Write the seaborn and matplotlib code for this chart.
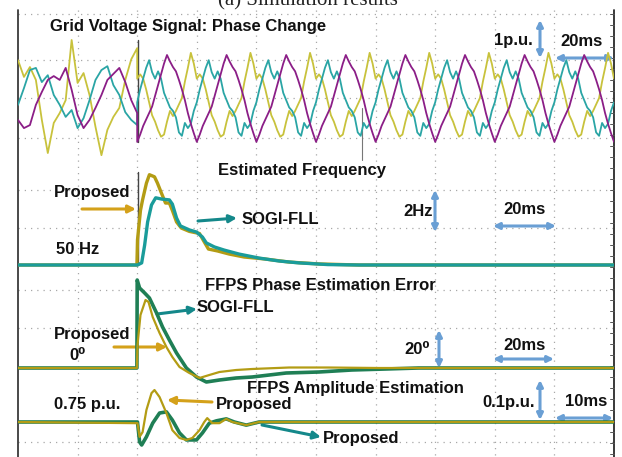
import numpy as np
import matplotlib
matplotlib.use("Agg")
import matplotlib.pyplot as plt
import seaborn as sns

# ---------------- data ----------------
# Grid voltage (p.u.), pre-change samples every 2 ms from t = 0 .. 40 ms
v_pre_t = np.arange(0, 41, 2)
v_pre_yellow = [0.88, 0.49, 0.72, 0.42, -0.51, -1.28, -0.58, -0.35, -0.05, 1.35, 0.35,
                0.58, 0.07, -0.67, -1.33, -0.74, -0.44, -0.23, 0.42, 0.9, 1.16]
v_pre_magenta = [-0.51, -0.7, -0.63, -0.16, 0.14, 0.42, 0.51, 0.42, 0.7, 0.19, -0.4,
                 -0.7, -0.51, -0.23, 0.07, 0.42, 0.56, 0.7, 0.37, -0.05, -0.35]
v_pre_teal = [-0.16, 0.23, 0.65, 0.7, 0.37, 0.53, 0.07, -0.16, -0.44, -0.28, -0.7,
              -0.47, -0.05, 0.42, 0.65, 0.74, 0.3, 0.07, -0.33, -0.51, -0.63]
# One 20 ms cycle after the phase change, samples every 1 ms (repeats for 8 cycles)
v_cycle_yellow = [0.45, 0.55, 0.45, 0.2, -0.1, -0.4, -0.55, -0.75, -0.9, -0.85,
                  -0.55, -0.3, -0.42, -0.3, -0.15, 0.0, 0.38, 0.7, 1.05, 0.8]
v_cycle_teal = [-0.1, 0.2, 0.45, 0.7, 0.88, 0.6, 0.45, 0.62, 0.45, 0.12,
                -0.05, -0.22, -0.3, -0.45, -0.8, -0.88, -0.58, -0.7, -0.6, -0.3]
v_cycle_magenta = [-1.02, -0.85, -0.65, -0.5, -0.35, -0.2, 0.05, 0.3, 0.55, 0.8,
                   1.0, 0.85, 0.72, 0.62, 0.42, 0.2, -0.05, -0.35, -0.6, -0.82]
n_cycles = 8

# Estimated frequency (Hz)
f_prop_t = [0, 39.9, 40.1, 41.1, 41.8, 43.1, 44.1, 45.8, 46.8, 48.2, 49.5, 50.8, 51.8, 53.2,
            54.8, 57.5, 60.9, 62.5, 63.9, 66.9, 70.9, 75.9, 82.6, 91, 101, 114.4, 200]
f_prop = [50, 50, 51.2, 52.6, 53.1, 53.9, 54.3, 54.2, 53.9, 53.4, 52.95, 52.95, 52.6, 52.05,
          51.76, 51.6, 51.5, 51.1, 50.76, 50.67, 50.52, 50.38, 50.29, 50.14, 50.05, 50.0, 50.0]
f_sogi_t = [0, 40.1, 41.5, 42.5, 43.5, 44.8, 46.2, 48.2, 50.8, 51.8, 53.2, 54.5, 57.5, 59.9,
            61.9, 63.2, 65.9, 69.2, 74.2, 80.9, 87.6, 94.3, 104, 114.4, 200]
f_sogi = [50, 50, 50.1, 50.95, 52.05, 52.86, 53.2, 53.14, 53.1, 52.9, 52.24, 51.86, 51.67, 51.57,
          51.33, 51.05, 50.86, 50.71, 50.52, 50.33, 50.19, 50.1, 50.02, 50.0, 50.0]

# FFPS phase estimation error (deg)
ph_sogi_t = [0, 39.9, 40.0, 40.8, 42.5, 44.1, 46.5, 48.5, 50.8, 53.2, 56.5, 59.9, 63.2, 67.6,
             73.2, 78.6, 84.3, 90, 101, 112, 123.4, 134.4, 200]
ph_sogi = [0, 0, 44, 40, 37.5, 35, 27.5, 20.5, 14, 7.5, 0, -4.5, -7, -6,
           -5, -4.5, -3.5, -2.5, -2, -1, -0.5, 0, 0]
ph_prop_t = [0, 39.9, 40.1, 41.1, 42.8, 43.8, 45.2, 47.5, 49.8, 51.8, 54.2, 57.5, 60.9, 64.2,
             67.6, 73.2, 78.6, 91, 104, 121, 200]
ph_prop = [0, 0, 11.5, 26.5, 34, 33, 25.5, 17.5, 10.5, 5.5, 0.5, -2.5, -5, -3.5,
           -2, -1, -0.5, 0.25, 0.25, 0, 0]

# FFPS amplitude estimation (p.u.)
a_prop_t = [0, 40.1, 40.8, 41.8, 43.1, 44.8, 45.8, 47.5, 49.8, 51.8, 54.2, 56.5, 58.5, 60.9,
            62.5, 63.5, 65.2, 67.6, 69.9, 71.9, 76.6, 80.9, 200]
a_prop = [0.75, 0.747, 0.712, 0.724, 0.781, 0.824, 0.832, 0.814, 0.773, 0.729, 0.709, 0.704, 0.709,
          0.729, 0.75, 0.76, 0.747, 0.747, 0.758, 0.75, 0.742, 0.75, 0.75]
a_sogi_t = [0, 40.1, 40.8, 41.5, 43.1, 45.2, 47.5, 49.8, 51.8, 54.2, 56.5, 59.9, 61.9, 64.2,
            66.6, 69.9, 72.6, 76.6, 80.9, 200]
a_sogi = [0.75, 0.75, 0.699, 0.691, 0.712, 0.747, 0.773, 0.776, 0.755, 0.722, 0.704, 0.704, 0.722,
          0.747, 0.753, 0.758, 0.75, 0.742, 0.75, 0.75]

# ---------------- style ----------------
sns.set_theme(style="white")
plt.rcParams['font.family'] = ['Liberation Sans', 'DejaVu Sans']

C_YEL = '#c8c23c'
C_TEAL = '#2aa5a5'
C_MAG = '#8b1e87'
C_PROP = '#b39c14'
C_SOGI = '#1a9c9a'
C_GREEN = '#1f7f55'
C_BLUE = '#6a9fd4'
C_GOLDA = '#d4a11a'
C_TEALA = '#14888a'

W, H = 622, 457
X0, X1 = 18, 614

fig = plt.figure(figsize=(W / 100, H / 100), dpi=100)
base = fig.add_axes([0, 0, 1, 1])
base.set_xlim(0, W)
base.set_ylim(H, 0)
base.axis('off')

# scope grid
for k in range(1, 10):
    x = X0 + k * (X1 - X0) / 10
    base.plot([x, x], [10, H], ls=(0, (1, 4)), color='#a8a8a8', lw=0.9, zorder=0)
for y in [14, 60, 98, 138, 190, 228, 290, 328, 442]:
    base.plot([X0, X1], [y, y], ls=(0, (1, 4)), color='#a8a8a8', lw=0.9, zorder=0)
base.plot([X0, X0], [10, H], color='#3a3a3a', lw=1.3)
base.plot([X1, X1], [10, H], color='#2a2a2a', lw=1.3)
for y in np.arange(14, H, 11):
    base.plot([X1 - 4, X1], [y, y], color='#555555', lw=0.7)

# markers
base.plot([138, 138], [40, 142], color='#444444', lw=1.0)
base.plot([138, 138], [172, 265], color='#444444', lw=1.0)
base.plot([362, 362], [108, 160], color='#777777', lw=0.8)


def panel(top, bot, ref_px, ref_val, px_per_unit):
    ax = fig.add_axes([X0 / W, 1 - bot / H, (X1 - X0) / W, (bot - top) / H])
    ax.set_xlim(0, 200)
    ax.set_ylim(ref_val - (bot - ref_px) / px_per_unit, ref_val + (ref_px - top) / px_per_unit)
    ax.patch.set_alpha(0)
    ax.axis('off')
    return ax


def trace(ax, t, v, color, lw, z=2):
    sns.lineplot(x=np.asarray(t, float), y=np.asarray(v, float), ax=ax, color=color, lw=lw,
                 estimator=None, sort=False, legend=False, zorder=z)


# voltage panel
axv = panel(0, 175, 98, 0.0, 43)
t_post = 40 + np.arange(0, 20 * n_cycles + 1)
for pre, cyc, col in [(v_pre_yellow, v_cycle_yellow, C_YEL),
                      (v_pre_teal, v_cycle_teal, C_TEAL),
                      (v_pre_magenta, v_cycle_magenta, C_MAG)]:
    post = np.concatenate([np.tile(cyc, n_cycles), cyc[:1]])
    tt = np.concatenate([v_pre_t, t_post])
    vv = np.concatenate([pre, post])
    trace(axv, tt, vv, col, 1.3)

# frequency panel
axf = panel(160, 280, 265, 50.0, 21)
trace(axf, f_prop_t, f_prop, C_PROP, 2.4)
trace(axf, f_sogi_t, f_sogi, C_SOGI, 2.4, 3)

# phase panel
axp = panel(270, 395, 368, 0.0, 2.0)
trace(axp, ph_sogi_t, ph_sogi, C_GREEN, 2.6)
trace(axp, ph_prop_t, ph_prop, C_PROP, 1.6, 3)

# amplitude panel
axa = panel(378, 457, 422, 0.75, 390)
trace(axa, a_sogi_t, a_sogi, C_GREEN, 2.6)
trace(axa, a_prop_t, a_prop, C_PROP, 1.6, 3)

# ---------------- annotations ----------------
FS = 12
tk = dict(fontsize=FS, fontweight='bold', color='#111111', va='center')

base.text(308, 5, "(a) Simulation results", family=['Liberation Serif', 'DejaVu Serif'],
          fontsize=15, ha='center', va='baseline', color='#222222')


def arrow(x1, y1, x2, y2, color, style='-|>', lw=2.2, ms=11):
    base.annotate('', xy=(x2, y2), xytext=(x1, y1),
                  arrowprops=dict(arrowstyle=style, color=color, lw=lw, mutation_scale=ms,
                                  shrinkA=0, shrinkB=0))


# voltage
base.text(50, 27, "Grid Voltage Signal: Phase Change", ha='left', **tk)
base.text(533, 40, "1p.u.", ha='right', **tk)
arrow(540, 20, 540, 58, C_BLUE, '<|-|>', 2.2, 9)
base.text(560, 42, "20ms", ha='left', **tk)
arrow(555, 58, 614, 58, C_BLUE, '<|-|>', 2.2, 9)

# frequency
base.text(302, 170, "Estimated Frequency", ha='center', **tk)
base.text(92, 192, "Proposed", ha='center', **tk)
arrow(82, 209, 136, 209, C_GOLDA)
base.text(242, 220, "SOGI-FLL", ha='left', **tk)
arrow(198, 221, 237, 218, C_TEALA)
base.text(418, 211, "2Hz", ha='center', **tk)
arrow(435, 190, 435, 232, C_BLUE, '<|-|>', 2.2, 9)
base.text(524, 209, "20ms", ha='center', **tk)
arrow(493, 226, 556, 226, C_BLUE, '<|-|>', 2.2, 9)
base.text(78, 250, "50 Hz", ha='center', **tk)

# phase error
base.text(320, 285, "FFPS Phase Estimation Error", ha='center', **tk)
base.text(197, 307, "SOGI-FLL", ha='left', **tk)
arrow(157, 314, 197, 309, C_TEALA)
base.text(92, 335, "Proposed", ha='center', **tk)
base.text(78, 356, "0⁰", ha='center', **tk)
arrow(114, 347, 167, 347, C_GOLDA)
base.text(417, 350, "20⁰", ha='center', **tk)
arrow(439, 330, 439, 368, C_BLUE, '<|-|>', 2.2, 9)
base.text(524, 345, "20ms", ha='center', **tk)
arrow(493, 359, 554, 359, C_BLUE, '<|-|>', 2.2, 9)

# amplitude
base.text(355, 388, "FFPS Amplitude Estimation", ha='center', **tk)
base.text(87, 404, "0.75 p.u.", ha='center', **tk)
base.text(216, 404, "Proposed", ha='left', **tk)
arrow(212, 402, 167, 400, C_GOLDA)
base.text(323, 438, "Proposed", ha='left', **tk)
arrow(262, 425, 321, 437, C_TEALA)
base.text(509, 402, "0.1p.u.", ha='center', **tk)
arrow(540, 380, 540, 420, C_BLUE, '<|-|>', 2.2, 9)
base.text(586, 401, "10ms", ha='center', **tk)
arrow(555, 418, 613, 418, C_BLUE, '<|-|>', 2.2, 9)

fig.savefig("out.png", dpi=100)
